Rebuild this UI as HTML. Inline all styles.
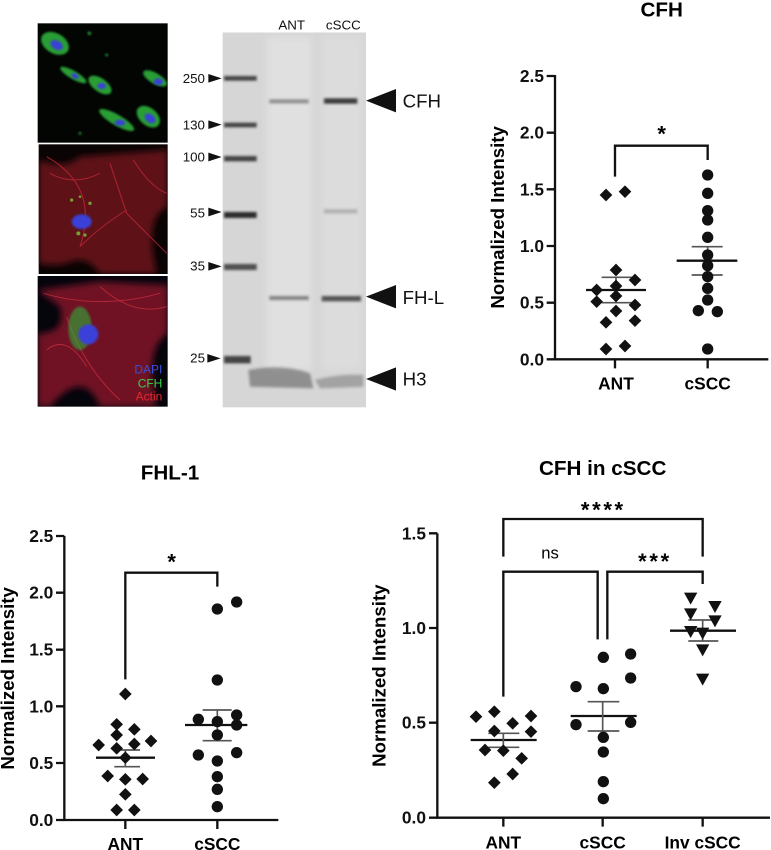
<!DOCTYPE html>
<html><head><meta charset="utf-8"><style>
html,body{margin:0;padding:0;background:#fff;}
svg{display:block;}
text{font-family:"Liberation Sans",Arial,sans-serif;}
</style></head><body>
<svg width="771" height="850" viewBox="0 0 771 850" xmlns="http://www.w3.org/2000/svg">
<defs>
<path id="dm" d="M0,-19 L19,0 L0,19 L-19,0 Z"/>
<path id="tr" d="M-20,-17 L20,-17 L0,19 Z"/>
<filter id="bl" x="-20%" y="-20%" width="140%" height="140%"><feGaussianBlur stdDeviation="10"/></filter>
<filter id="bl2" x="-20%" y="-20%" width="140%" height="140%"><feGaussianBlur stdDeviation="3"/></filter>
<filter id="bl3" x="-20%" y="-50%" width="140%" height="200%"><feGaussianBlur stdDeviation="4"/></filter>
<clipPath id="c1"><rect x="113" y="70" width="390" height="358"/></clipPath>
<clipPath id="c2"><rect x="116" y="433" width="387" height="389"/></clipPath>
<clipPath id="c3"><rect x="113" y="828" width="390" height="392"/></clipPath>
<clipPath id="cg"><rect x="668" y="97" width="430" height="1125"/></clipPath>
</defs>

<g transform="scale(0.33333)">
  <rect x="113" y="70" width="390" height="358" fill="#030503"/>
  <g clip-path="url(#c1)">
  <g fill="#2fb03a" filter="url(#bl2)" opacity="0.9">
    <ellipse cx="165" cy="130" rx="45" ry="30" transform="rotate(30 165 130)"/>
    <ellipse cx="220" cy="225" rx="45" ry="12" transform="rotate(30 220 225)"/>
    <ellipse cx="300" cy="255" rx="40" ry="20" transform="rotate(35 300 255)"/>
    <ellipse cx="465" cy="235" rx="40" ry="16" transform="rotate(30 465 235)"/>
    <ellipse cx="350" cy="360" rx="60" ry="16" transform="rotate(30 350 360)"/>
    <ellipse cx="445" cy="350" rx="40" ry="26" transform="rotate(40 445 350)"/>
    <circle cx="268" cy="100" r="5"/><circle cx="320" cy="165" r="4"/><circle cx="240" cy="400" r="4"/>
  </g>
  <g fill="#3b3fd8" filter="url(#bl2)">
    <ellipse cx="170" cy="135" rx="20" ry="13" transform="rotate(30 170 135)"/>
    <ellipse cx="225" cy="228" rx="12" ry="7" transform="rotate(30 225 228)"/>
    <ellipse cx="305" cy="258" rx="13" ry="9"/>
    <ellipse cx="475" cy="245" rx="14" ry="10"/>
    <ellipse cx="360" cy="368" rx="16" ry="9"/>
    <ellipse cx="450" cy="355" rx="18" ry="12" transform="rotate(40 450 355)"/>
  </g>
  </g>
  <rect x="116" y="433" width="387" height="389" fill="#0a0404"/>
  <g clip-path="url(#c2)">
  <path d="M116,480 Q200,510 240,470 L503,450 L503,620 Q430,650 470,822 L300,822 Q260,760 200,790 Q160,800 116,790 Z" fill="#6e141c" opacity="0.85" filter="url(#bl)"/>
  <g stroke="#c02838" stroke-width="3" fill="none" opacity="0.8">
    <path d="M330,490 L380,640 L500,760"/><path d="M240,740 Q300,680 380,630"/><path d="M140,470 Q300,560 240,740"/><path d="M150,520 Q220,560 300,520"/><path d="M400,480 Q450,560 500,580"/>
  </g>
  <ellipse cx="245" cy="665" rx="30" ry="22" fill="#3b3fd8" filter="url(#bl2)"/>
  <g fill="#7fc23a" opacity="0.8"><circle cx="215" cy="600" r="5"/><circle cx="240" cy="590" r="4"/><circle cx="270" cy="610" r="5"/><circle cx="235" cy="700" r="6"/><circle cx="255" cy="705" r="5"/></g>
  </g>
  <rect x="113" y="828" width="390" height="392" fill="#05050c"/>
  <g clip-path="url(#c3)">
  <path d="M113,870 L300,845 L503,855 L503,1000 Q430,1050 470,1220 L300,1220 Q250,1100 150,1220 L113,1220 L113,1000 Q200,1000 180,920 Z" fill="#84182a" opacity="0.85" filter="url(#bl)"/>
  <g stroke="#d03040" stroke-width="3" fill="none" opacity="0.7">
    <path d="M130,880 Q300,930 480,880"/><path d="M200,950 Q250,1100 360,1200"/><path d="M300,860 Q400,950 500,920"/><path d="M140,1050 Q200,1000 260,1100"/>
  </g>
  <ellipse cx="240" cy="985" rx="35" ry="65" fill="#2fb03a" opacity="0.6" filter="url(#bl2)"/>
  <ellipse cx="265" cy="1003" rx="30" ry="30" fill="#3b3fd8" filter="url(#bl2)"/>
  </g>
  <text x="487" y="1120" font-size="36" fill="#3b4fd8" text-anchor="end">DAPI</text>
  <text x="487" y="1162" font-size="36" fill="#3bd04a" text-anchor="end">CFH</text>
  <text x="487" y="1202" font-size="36" fill="#e02a30" text-anchor="end">Actin</text>

  <rect x="668" y="97" width="430" height="1125" fill="#d6d6d6"/>
  <g clip-path="url(#cg)">
  <rect x="800" y="110" width="135" height="1000" fill="#e0e0e0" filter="url(#bl)"/>
  <rect x="965" y="110" width="120" height="1000" fill="#dcdcdc" filter="url(#bl)"/>
  <g fill="#2a2a2a" filter="url(#bl3)">
    <rect x="672" y="228" width="98" height="14" opacity="0.85"/>
    <rect x="672" y="368" width="98" height="14" opacity="0.85"/>
    <rect x="672" y="468" width="98" height="16" opacity="0.85"/>
    <rect x="672" y="636" width="98" height="18"/>
    <rect x="672" y="792" width="98" height="18" opacity="0.8"/>
    <rect x="672" y="1068" width="80" height="22" opacity="0.85"/>
    <rect x="808" y="298" width="118" height="12" opacity="0.45"/>
    <rect x="972" y="295" width="100" height="16" opacity="0.9"/>
    <rect x="808" y="888" width="118" height="12" opacity="0.5"/>
    <rect x="965" y="888" width="118" height="16" opacity="0.75"/>
    <rect x="972" y="628" width="100" height="12" opacity="0.25"/>
    <path d="M745,1110 Q850,1090 930,1120 L940,1165 L750,1160 Z" opacity="0.4"/>
    <path d="M945,1140 Q1020,1120 1090,1125 L1090,1160 L960,1165 Z" opacity="0.3"/>
  </g>
  </g>
  <text x="875" y="88" font-size="40" text-anchor="middle" fill="#111">ANT</text>
  <text x="1030" y="88" font-size="40" text-anchor="middle" fill="#111">cSCC</text>
  <g font-size="40" fill="#111" text-anchor="end">
    <text x="615" y="249">250</text><text x="615" y="388">130</text><text x="615" y="485">100</text>
    <text x="615" y="652">55</text><text x="615" y="812">35</text><text x="615" y="1088">25</text>
  </g>
  <g fill="#111">
    <path d="M625,222 L665,235 L625,248 Z"/><path d="M625,361 L665,374 L625,387 Z"/>
    <path d="M625,458 L665,471 L625,484 Z"/><path d="M625,623 L665,636 L625,649 Z"/>
    <path d="M625,786 L665,799 L625,812 Z"/><path d="M622,1062 L662,1075 L622,1088 Z"/>
    <path d="M1098,302 L1188,267 L1188,337 Z"/>
    <path d="M1098,890 L1188,855 L1188,925 Z"/>
    <path d="M1098,1137 L1188,1102 L1188,1172 Z"/>
  </g>
  <g font-size="56" fill="#111">
    <text x="1208" y="322">CFH</text><text x="1208" y="912">FH-L</text><text x="1208" y="1157">H3</text>
  </g>
</g>

<g transform="translate(480,0) scale(0.33333)">
  <text x="545" y="50" font-size="62" font-weight="bold" text-anchor="middle">CFH</text>
  <g stroke="#111" stroke-width="7" fill="none">
    <path d="M225,225 L225,1078 L865,1078"/>
    <path d="M200,228 L225,228 M200,398 L225,398 M200,568 L225,568 M200,738 L225,738 M200,908 L225,908 M200,1078 L225,1078"/>
    <path d="M405,1078 L405,1105 M683,1078 L683,1105"/>
    <path d="M405,530 L405,437 L683,437 L683,480"/>
    <path d="M318,870 L498,870 M590,782 L772,782"/>
  </g>
  <g stroke="#555" stroke-width="5"><path d="M365,832 L455,832 M365,908 L455,908 M408,832 L408,908 M635,740 L728,740 M635,825 L728,825 M683,740 L683,825"/></g>
  <g font-size="52" font-weight="bold" text-anchor="end" fill="#111">
    <text x="192" y="246">2.5</text><text x="192" y="416">2.0</text><text x="192" y="586">1.5</text>
    <text x="192" y="756">1.0</text><text x="192" y="926">0.5</text><text x="192" y="1096">0.0</text>
  </g>
  <text transform="translate(72,652) rotate(-90)" font-size="56" font-weight="bold" text-anchor="middle">Normalized Intensity</text>
  <g font-size="52" font-weight="bold" text-anchor="middle"><text x="408" y="1168">ANT</text><text x="683" y="1168">cSCC</text></g>
  <text x="545" y="425" font-size="66" font-weight="bold" text-anchor="middle">*</text>
  <g fill="#111">
    <use href="#dm" x="378" y="585"/><use href="#dm" x="435" y="575"/><use href="#dm" x="408" y="810"/><use href="#dm" x="350" y="870"/><use href="#dm" x="465" y="840"/><use href="#dm" x="408" y="858"/><use href="#dm" x="350" y="905"/><use href="#dm" x="408" y="888"/><use href="#dm" x="465" y="915"/><use href="#dm" x="408" y="933"/><use href="#dm" x="378" y="967"/><use href="#dm" x="465" y="962"/><use href="#dm" x="378" y="1047"/><use href="#dm" x="435" y="1038"/>
    <circle cx="683" cy="525" r="17"/><circle cx="683" cy="580" r="17"/><circle cx="683" cy="632" r="17"/><circle cx="683" cy="660" r="17"/><circle cx="683" cy="712" r="17"/><circle cx="683" cy="765" r="17"/><circle cx="683" cy="797" r="17"/><circle cx="683" cy="830" r="17"/><circle cx="683" cy="865" r="17"/><circle cx="683" cy="900" r="17"/><circle cx="655" cy="932" r="17"/><circle cx="712" cy="935" r="17"/><circle cx="683" cy="1047" r="17"/>
  </g>
</g>

<g transform="translate(0,430) scale(0.33333)">
  <text x="510" y="148" font-size="62" font-weight="bold" text-anchor="middle">FHL-1</text>
  <g stroke="#111" stroke-width="7" fill="none">
    <path d="M193,318 L193,1170 L835,1170"/>
    <path d="M168,318 L193,318 M168,488 L193,488 M168,659 L193,659 M168,829 L193,829 M168,999 L193,999 M168,1170 L193,1170"/>
    <path d="M376,1170 L376,1197 M652,1170 L652,1197"/>
    <path d="M376,748 L376,428 L652,428 L652,470"/>
    <path d="M288,983 L465,983 M555,885 L742,885"/>
  </g>
  <g stroke="#555" stroke-width="5"><path d="M343,960 L420,960 M343,1010 L420,1010 M376,960 L376,1010 M608,840 L695,840 M608,932 L695,932 M652,840 L652,932"/></g>
  <g font-size="52" font-weight="bold" text-anchor="end" fill="#111">
    <text x="160" y="336">2.5</text><text x="160" y="506">2.0</text><text x="160" y="677">1.5</text>
    <text x="160" y="847">1.0</text><text x="160" y="1017">0.5</text><text x="160" y="1188">0.0</text>
  </g>
  <text transform="translate(42,745) rotate(-90)" font-size="56" font-weight="bold" text-anchor="middle">Normalized Intensity</text>
  <g font-size="52" font-weight="bold" text-anchor="middle"><text x="376" y="1260">ANT</text><text x="652" y="1260">cSCC</text></g>
  <text x="515" y="418" font-size="66" font-weight="bold" text-anchor="middle">*</text>
  <g fill="#111">
    <use href="#dm" x="376" y="792"/><use href="#dm" x="350" y="883"/><use href="#dm" x="403" y="898"/><use href="#dm" x="296" y="945"/><use href="#dm" x="350" y="915"/><use href="#dm" x="403" y="942"/><use href="#dm" x="453" y="933"/><use href="#dm" x="350" y="955"/><use href="#dm" x="376" y="983"/><use href="#dm" x="323" y="1038"/><use href="#dm" x="376" y="1048"/><use href="#dm" x="428" y="1047"/><use href="#dm" x="376" y="1093"/><use href="#dm" x="350" y="1140"/><use href="#dm" x="403" y="1140"/>
    <circle cx="652" cy="537" r="17"/><circle cx="710" cy="516" r="17"/><circle cx="652" cy="750" r="17"/><circle cx="595" cy="868" r="17"/><circle cx="652" cy="875" r="17"/><circle cx="710" cy="855" r="17"/><circle cx="710" cy="885" r="17"/><circle cx="652" cy="915" r="17"/><circle cx="595" cy="975" r="17"/><circle cx="710" cy="968" r="17"/><circle cx="652" cy="993" r="17"/><circle cx="652" cy="1040" r="17"/><circle cx="652" cy="1078" r="17"/><circle cx="652" cy="1130" r="17"/>
  </g>
</g>

<g transform="translate(360,430) scale(0.33333)">
  <text x="728" y="135" font-size="62" font-weight="bold" text-anchor="middle">CFH in cSCC</text>
  <g stroke="#111" stroke-width="7" fill="none">
    <path d="M232,310 L232,1163 L1230,1163"/>
    <path d="M207,310 L232,310 M207,594 L232,594 M207,878 L232,878 M207,1163 L232,1163"/>
    <path d="M430,1163 L430,1190 M728,1163 L728,1190 M1028,1163 L1028,1190"/>
    <path d="M430,380 L430,267 L1028,267 L1028,380"/>
    <path d="M430,800 L430,425 L713,425 L713,628"/>
    <path d="M742,628 L742,425 L1028,425 L1028,462"/>
    <path d="M332,930 L530,930 M632,858 L830,858 M930,602 L1128,602"/>
  </g>
  <g stroke="#555" stroke-width="5"><path d="M385,910 L478,910 M385,952 L478,952 M430,910 L430,952 M683,815 L778,815 M683,903 L778,903 M728,815 L728,903 M985,570 L1075,570 M985,633 L1075,633 M1028,570 L1028,633"/></g>
  <g font-size="52" font-weight="bold" text-anchor="end" fill="#111">
    <text x="198" y="328">1.5</text><text x="198" y="612">1.0</text><text x="198" y="896">0.5</text><text x="198" y="1181">0.0</text>
  </g>
  <text transform="translate(76,737) rotate(-90)" font-size="56" font-weight="bold" text-anchor="middle">Normalized Intensity</text>
  <g font-size="52" font-weight="bold" text-anchor="middle"><text x="430" y="1255">ANT</text><text x="728" y="1255">cSCC</text><text x="1028" y="1255">Inv cSCC</text></g>
  <g font-size="66" font-weight="bold" text-anchor="middle">
    <text x="730" y="262" letter-spacing="8">****</text>
    <text x="885" y="417" letter-spacing="8">***</text>
  </g>
  <text x="570" y="385" font-size="50" text-anchor="middle">ns</text>
  <g fill="#111">
    <use href="#dm" x="348" y="860"/><use href="#dm" x="403" y="845"/><use href="#dm" x="513" y="858"/><use href="#dm" x="403" y="903"/><use href="#dm" x="458" y="880"/><use href="#dm" x="513" y="905"/><use href="#dm" x="375" y="960"/><use href="#dm" x="430" y="962"/><use href="#dm" x="485" y="985"/><use href="#dm" x="458" y="1032"/><use href="#dm" x="403" y="1058"/>
    <circle cx="730" cy="682" r="17"/><circle cx="812" cy="672" r="17"/><circle cx="812" cy="744" r="17"/><circle cx="648" cy="770" r="17"/><circle cx="730" cy="776" r="17"/><circle cx="648" cy="884" r="17"/><circle cx="812" cy="877" r="17"/><circle cx="730" cy="922" r="17"/><circle cx="730" cy="966" r="17"/><circle cx="730" cy="1055" r="17"/><circle cx="730" cy="1106" r="17"/>
    <use href="#tr" x="992" y="505"/><use href="#tr" x="1065" y="530"/><use href="#tr" x="992" y="552"/><use href="#tr" x="1065" y="573"/><use href="#tr" x="992" y="605"/><use href="#tr" x="1028" y="610"/><use href="#tr" x="1028" y="660"/><use href="#tr" x="1028" y="748"/>
  </g>
</g>
</svg>
</body></html>
